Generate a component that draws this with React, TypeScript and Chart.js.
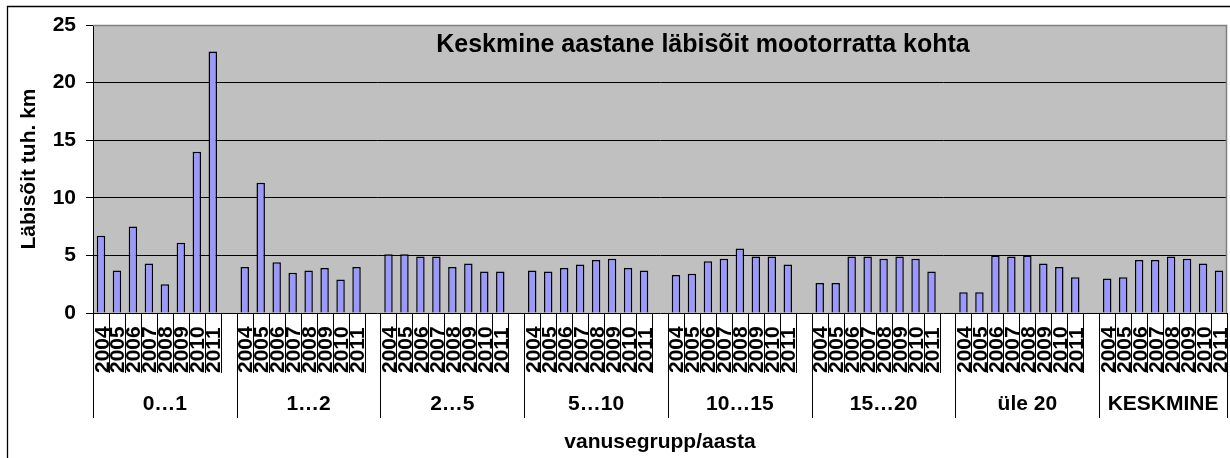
import React, { useEffect, useRef } from "react";
import { Chart, registerables } from "chart.js";

Chart.register(...registerables);

const FONT = '"Liberation Sans", Arial, Helvetica, sans-serif';

const chartTitle = "Keskmine aastane läbisõit mootorratta kohta";
const yAxisTitle = "Läbisõit tuh. km";
const xAxisTitle = "vanusegrupp/aasta";

const years = ["2004", "2005", "2006", "2007", "2008", "2009", "2010", "2011"];
const groups = ["0…1", "1…2", "2…5", "5…10", "10…15", "15…20", "üle 20", "KESKMINE"];

const g0_1 = [6.7, 3.7, 7.5, 4.3, 2.5, 6.1, 14.0, 22.7];
const g1_2 = [4.0, 11.3, 4.4, 3.5, 3.7, 3.9, 2.9, 4.0];
const g2_5 = [5.1, 5.1, 4.9, 4.9, 4.0, 4.3, 3.6, 3.6];
const g5_10 = [3.7, 3.6, 3.9, 4.2, 4.6, 4.7, 3.9, 3.7];
const g10_15 = [3.3, 3.4, 4.5, 4.7, 5.6, 4.9, 4.9, 4.2];
const g15_20 = [2.6, 2.6, 4.9, 4.9, 4.7, 4.9, 4.7, 3.6];
const gUle20 = [1.8, 1.8, 5.0, 4.9, 5.0, 4.3, 4.0, 3.1];
const gKeskmine = [3.0, 3.1, 4.6, 4.6, 4.9, 4.7, 4.3, 3.7];

const groupValues = [g0_1, g1_2, g2_5, g5_10, g10_15, g15_20, gUle20, gKeskmine];

const yTicks = [0, 5, 10, 15, 20, 25];

export default function App() {
  const ref = useRef<HTMLCanvasElement | null>(null);

  useEffect(() => {
    const canvas = ref.current;
    if (!canvas) return;

    // Build flat category list: 8 years per group + blank spacer (except last group)
    const labels: string[] = [];
    const values: (number | null)[] = [];
    const groupSpans: { name: string; start: number; end: number }[] = [];
    groups.forEach((g, gi) => {
      const start = labels.length;
      years.forEach((y, yi) => {
        labels.push(y);
        values.push(groupValues[gi][yi]);
      });
      if (gi < groups.length - 1) {
        labels.push("");
        values.push(null);
      }
      groupSpans.push({ name: g, start, end: labels.length });
    });
    const groupStarts = new Set(groupSpans.map((s) => s.start));
    groupStarts.add(labels.length);

    const decor = {
      id: "decor",
      beforeDraw(chart: any) {
        const { ctx, chartArea: a, width, height } = chart;
        ctx.save();
        ctx.fillStyle = "#ffffff";
        ctx.fillRect(0, 0, width, height);
        ctx.fillStyle = "#C0C0C0";
        ctx.fillRect(a.left, a.top, a.right - a.left, a.bottom - a.top);
        ctx.restore();
      },
      afterDraw(chart: any) {
        const { ctx, chartArea: a, width, height } = chart;
        const xs = chart.scales.x;
        const n = labels.length;
        const cw = (a.right - a.left) / n;
        ctx.save();

        // outer chart border (top/left visible)
        ctx.strokeStyle = "#000";
        ctx.lineWidth = 1.3;
        ctx.beginPath();
        ctx.moveTo(7.5, height);
        ctx.lineTo(7.5, 6.5);
        ctx.lineTo(width, 6.5);
        ctx.stroke();

        // plot area border (top / right gray)
        ctx.strokeStyle = "#808080";
        ctx.lineWidth = 1.5;
        ctx.beginPath();
        ctx.moveTo(a.left, a.top + 0.5);
        ctx.lineTo(a.right - 0.5, a.top + 0.5);
        ctx.lineTo(a.right - 0.5, a.bottom);
        ctx.stroke();

        // chart title
        ctx.fillStyle = "#000";
        ctx.font = `bold 25px ${FONT}`;
        ctx.textAlign = "center";
        ctx.textBaseline = "alphabetic";
        ctx.fillText(chartTitle, 703, 51.5);

        // y axis title
        ctx.save();
        ctx.font = `bold 21px ${FONT}`;
        ctx.translate(35, (a.top + a.bottom) / 2);
        ctx.rotate(-Math.PI / 2);
        ctx.textAlign = "center";
        ctx.textBaseline = "alphabetic";
        ctx.fillText(yAxisTitle, 0, 0);
        ctx.restore();

        // year labels (rotated)
        const yearBottom = 373;
        const lineLong = 418;
        const fsYear = 21;
        ctx.font = `bold ${fsYear}px ${FONT}`;
        labels.forEach((lab, i) => {
          if (!lab) return;
          const cx = xs.getPixelForValue(i);
          ctx.save();
          ctx.translate(cx + 0.358 * fsYear, yearBottom);
          ctx.rotate(-Math.PI / 2);
          ctx.textAlign = "left";
          ctx.textBaseline = "alphabetic";
          ctx.fillText(lab, 0, 0);
          ctx.restore();
        });

        // tick separator lines
        ctx.strokeStyle = "#000";
        ctx.lineWidth = 1;
        for (let i = 0; i <= n; i++) {
          const x = Math.round(a.left + i * cw) + 0.5;
          const long = groupStarts.has(i);
          ctx.beginPath();
          ctx.moveTo(x, a.bottom);
          ctx.lineTo(x, long ? lineLong : yearBottom);
          ctx.stroke();
        }

        // group labels
        ctx.font = `bold 21px ${FONT}`;
        ctx.textAlign = "center";
        ctx.textBaseline = "alphabetic";
        groupSpans.forEach((s) => {
          const x0 = a.left + s.start * cw;
          const x1 = a.left + s.end * cw;
          ctx.fillText(s.name, (x0 + x1) / 2, 410);
        });

        // x axis title
        ctx.font = `bold 21px ${FONT}`;
        ctx.fillText(xAxisTitle, (a.left + a.right) / 2, 448);

        ctx.restore();
      },
    };

    const chart = new Chart(canvas, {
      type: "bar",
      data: {
        labels,
        datasets: [
          {
            data: values,
            backgroundColor: "#9999FF",
            borderColor: "#000000",
            borderWidth: 1.5,
            barPercentage: 0.53,
            categoryPercentage: 1,
          },
        ],
      },
      options: {
        animation: false,
        responsive: false,
        devicePixelRatio: 1,
        layout: { padding: { left: 0, right: 3, top: 25, bottom: 145 } },
        plugins: {
          legend: { display: false },
          tooltip: { enabled: false },
          title: { display: false },
        },
        scales: {
          x: {
            display: false,
            offset: true,
          },
          y: {
            min: 0,
            max: 25,
            afterBuildTicks: (s: any) => {
              s.ticks = yTicks.map((v) => ({ value: v }));
            },
            afterFit: (s: any) => {
              s.width = 93;
            },
            ticks: {
              color: "#000",
              padding: 10,
              font: { family: FONT, size: 21, weight: "bold" },
            },
            grid: {
              color: "#000",
              lineWidth: 1,
              tickLength: 7,
              tickColor: "#000",
            },
            border: { color: "#000", width: 1 },
          },
        },
      },
      plugins: [decor],
    });

    return () => chart.destroy();
  }, []);

  return (
    <div style={{ position: "fixed", left: 0, top: 0, width: 1230, height: 458 }}>
      <canvas ref={ref} width={1230} height={458} style={{ display: "block" }} />
    </div>
  );
}
